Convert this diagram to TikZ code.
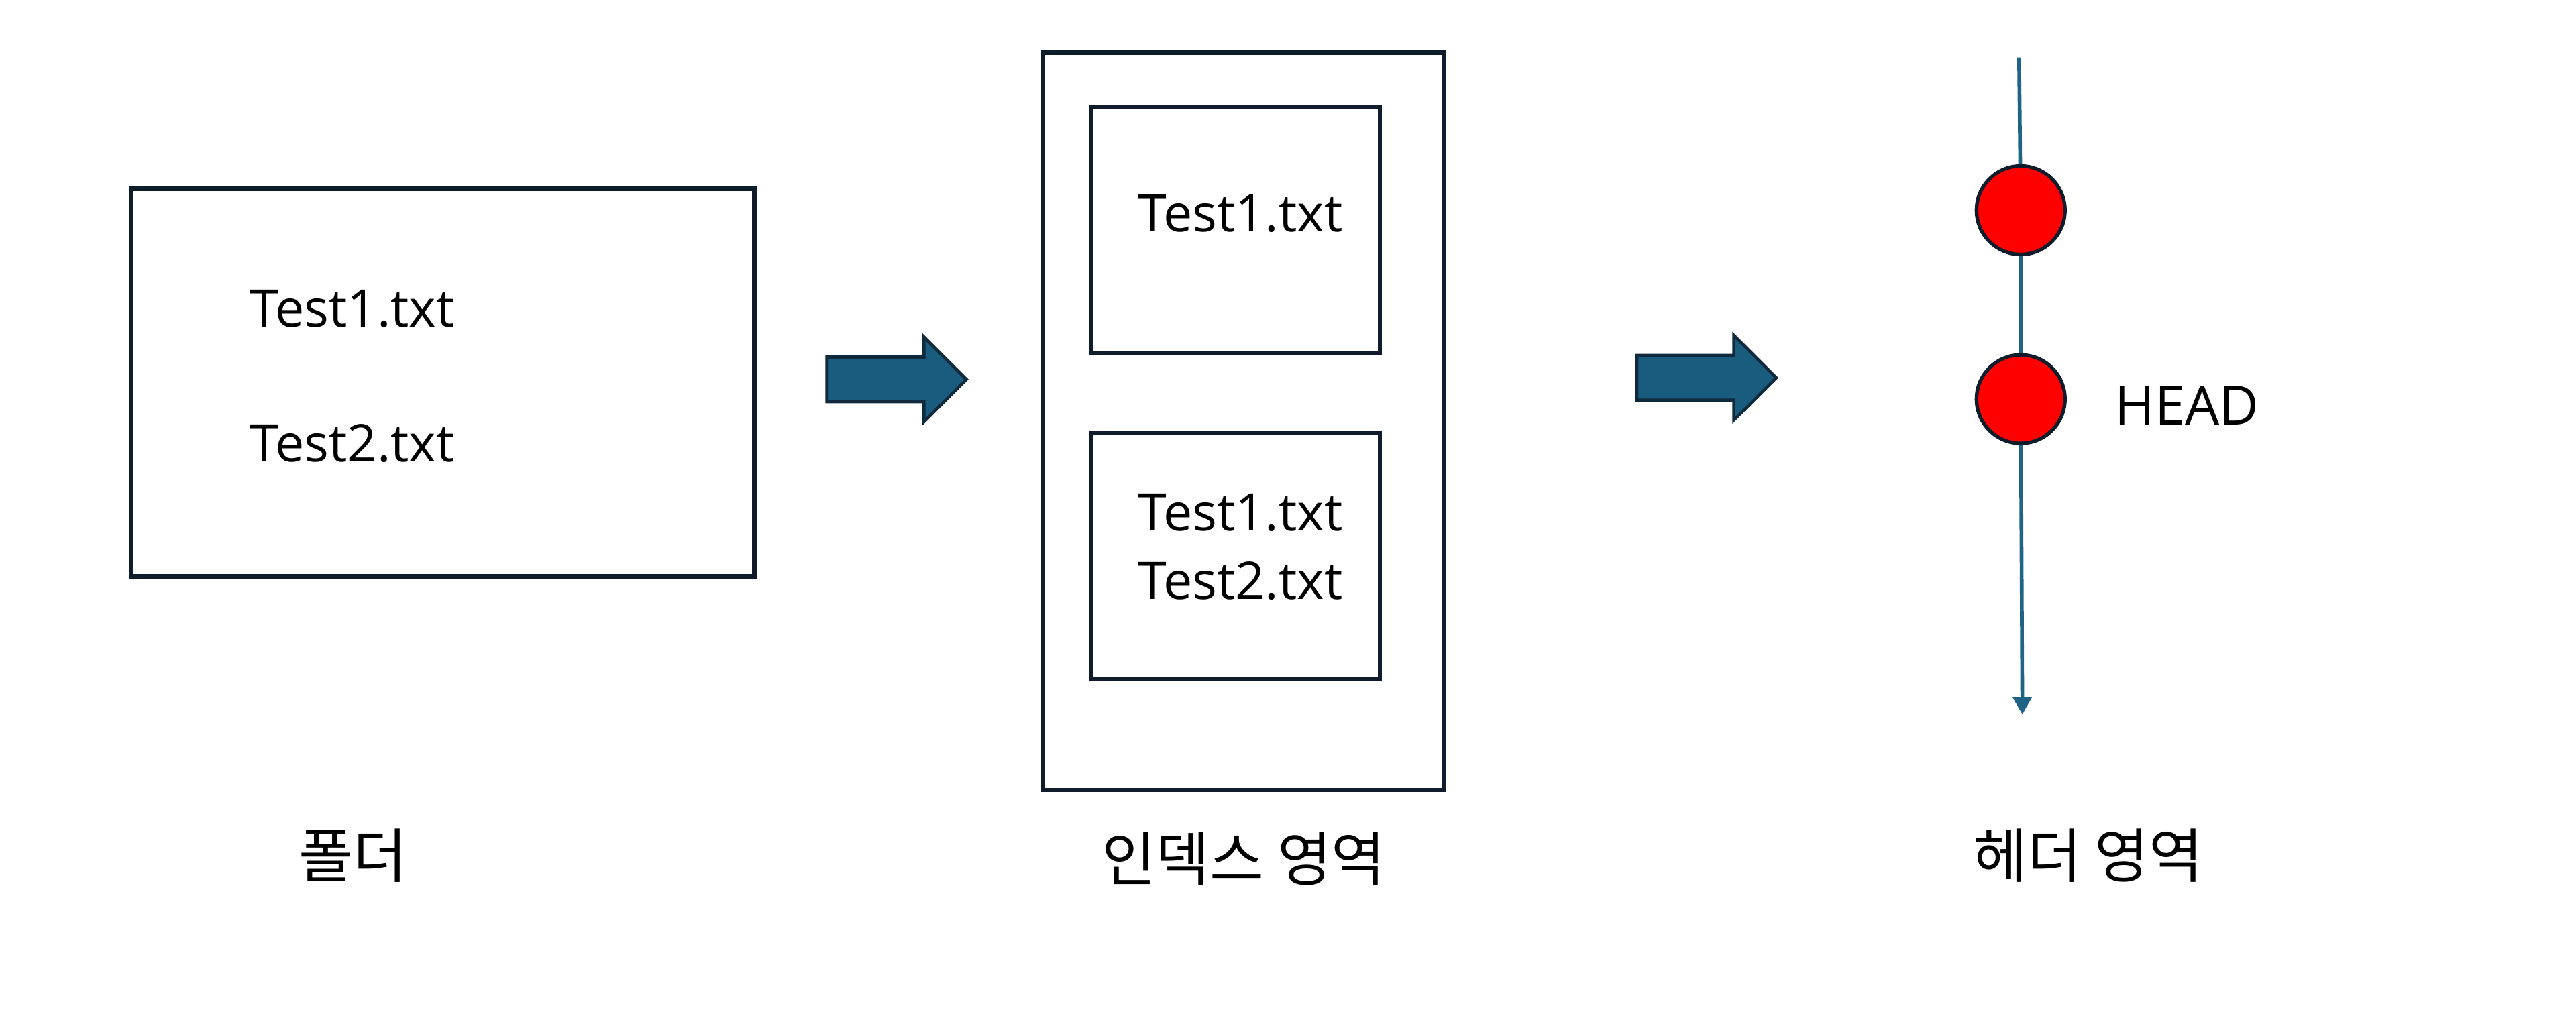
\documentclass[tikz,border=0pt]{standalone}
\usepackage{fontspec}
\setmainfont{Open Sans}
\newfontfamily\krfont{Noto Sans CJK KR}
\usepackage{tikz}
\usetikzlibrary{arrows.meta, shapes.arrows, positioning}
\definecolor{boxline}{HTML}{0F1C2B}
\definecolor{arrowfill}{HTML}{1A5C7E}
\definecolor{arrowline}{HTML}{0E2A3C}
\definecolor{tline}{HTML}{1F6385}
\definecolor{commitred}{HTML}{FF0000}
\tikzset{
  areabox/.style={
    rectangle, draw=boxline, line width=1.9pt, fill=white,
    inner sep=0pt
  },
  filetext/.style={
    inner sep=0pt, align=center, font=\fontsize{22}{29}\selectfont
  },
  caption/.style={
    inner sep=0pt, font=\krfont\fontsize{25}{30}\selectfont
  },
  flow/.style={
    single arrow, draw=arrowline, line width=1.3pt, fill=arrowfill,
    inner xsep=0pt, inner ysep=0.31cm, minimum width=0pt,
    minimum height=2.08cm, single arrow head extend=0.3cm,
    single arrow tip angle=90
  },
  commit/.style={
    circle, draw=boxline, line width=1.5pt, fill=commitred,
    minimum size=1.32cm, inner sep=0pt
  },
  history/.style={draw=tline, line width=1.6pt}
}

\begin{document}
\begin{tikzpicture}[x=0.0245cm, y=-0.0245cm]
  \useasboundingbox (0,0) rectangle (1568,617);

  % folder
  \node[areabox, minimum width=9.29cm, minimum height=5.78cm] (folder) at (269.5,233) {};
  \node[filetext, anchor=west] (ftest1) at (152,188) {Test1.txt};
  \node[filetext, anchor=west] (ftest2) at (152,270) {Test2.txt};
  \node[caption] (folderlbl) at (215,521) {폴더};

  \node[flow] (arrA) at (539,231) {};

  % index area
  \node[areabox, minimum width=5.98cm, minimum height=11.0cm] (index) at (757,256.5) {};
  \node[areabox, minimum width=4.31cm, minimum height=3.68cm] (stageA) at (752,140) {};
  \node[areabox, minimum width=4.31cm, minimum height=3.68cm] (stageB) at (752,338.5) {};
  \node[filetext] (itest1) at (755,130) {Test1.txt};
  \node[filetext] (itest12) at (755,333) {Test1.txt\\Test2.txt};
  \node[caption] (indexlbl) at (757,523) {인덱스 영역};

  \node[flow] (arrB) at (1032,230) {};

  % head area
  \coordinate (htop) at (1229,35);
  \coordinate (hbot) at (1231,435);
  \node[commit] (cA) at (1230,128) {};
  \node[commit] (cB) at (1230,243) {};
  \draw[history] (htop) -- (cA);
  \draw[history] (cA) -- (cB);
  \draw[history, -{Triangle[width=0.28cm, length=0.26cm]}] (cB) -- (hbot);
  \node[filetext, anchor=west, font=\fontsize{23}{28}\selectfont] (headlbl) at (1287,247) {HEAD};
  \node[caption] (headarea) at (1271,521) {헤더 영역};
\end{tikzpicture}
\end{document}
